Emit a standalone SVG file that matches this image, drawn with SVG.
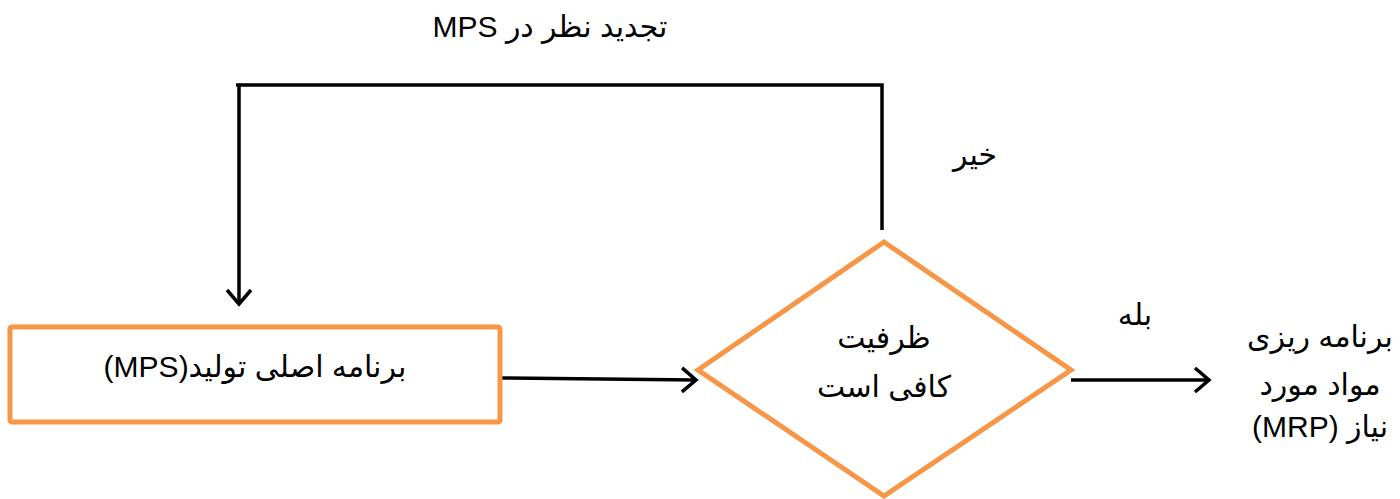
<svg xmlns="http://www.w3.org/2000/svg" width="1400" height="499" viewBox="0 0 1400 499">
<style>
.t{font-family:"Liberation Sans","DejaVu Sans",sans-serif;font-size:30px;fill:#000;text-anchor:middle;direction:rtl;unicode-bidi:embed}
.shape{fill:#fff;stroke:#F79646;stroke-width:5}
.c{fill:none;stroke:#000;stroke-width:3.5}
</style>
<defs>
<marker id="ah" markerWidth="24" markerHeight="28" refX="19" refY="14" orient="auto" markerUnits="userSpaceOnUse">
<path d="M5,2 L19,14 L5,26" fill="none" stroke="#000" stroke-width="3.5"/>
</marker>
</defs>
<rect width="1400" height="499" fill="#fff"/>
<g id="connectors">
<polyline class="c" points="882,230 882,85 236,85"/>
<line class="c" x1="239" y1="85" x2="239" y2="304" marker-end="url(#ah)"/>
<line class="c" x1="500" y1="378" x2="696" y2="380" marker-end="url(#ah)"/>
<line class="c" x1="1071" y1="380" x2="1209" y2="380" marker-end="url(#ah)"/>
</g>
<g id="mps">
<rect class="shape" x="10" y="327" width="490" height="95" rx="2"/>
<text class="t" x="255" y="377">برنامه اصلی تولید(MPS)</text>
</g>
<g id="decision">
<polygon class="shape" points="884,242 1071,370 884,496 698,370"/>
<text class="t" x="884" y="348">ظرفیت</text>
<text class="t" x="884" y="397">کافی است</text>
</g>
<g id="mrp">
<text class="t" x="1320" y="347">برنامه ریزی</text>
<text class="t" x="1320" y="395">مواد مورد</text>
<text class="t" x="1320" y="437">نیاز (MRP)</text>
</g>
<g id="labels">
<text class="t" x="550" y="37">تجدید نظر در MPS</text>
<text class="t" x="975" y="165">خیر</text>
<text class="t" x="1135" y="325">بله</text>
</g>
</svg>
